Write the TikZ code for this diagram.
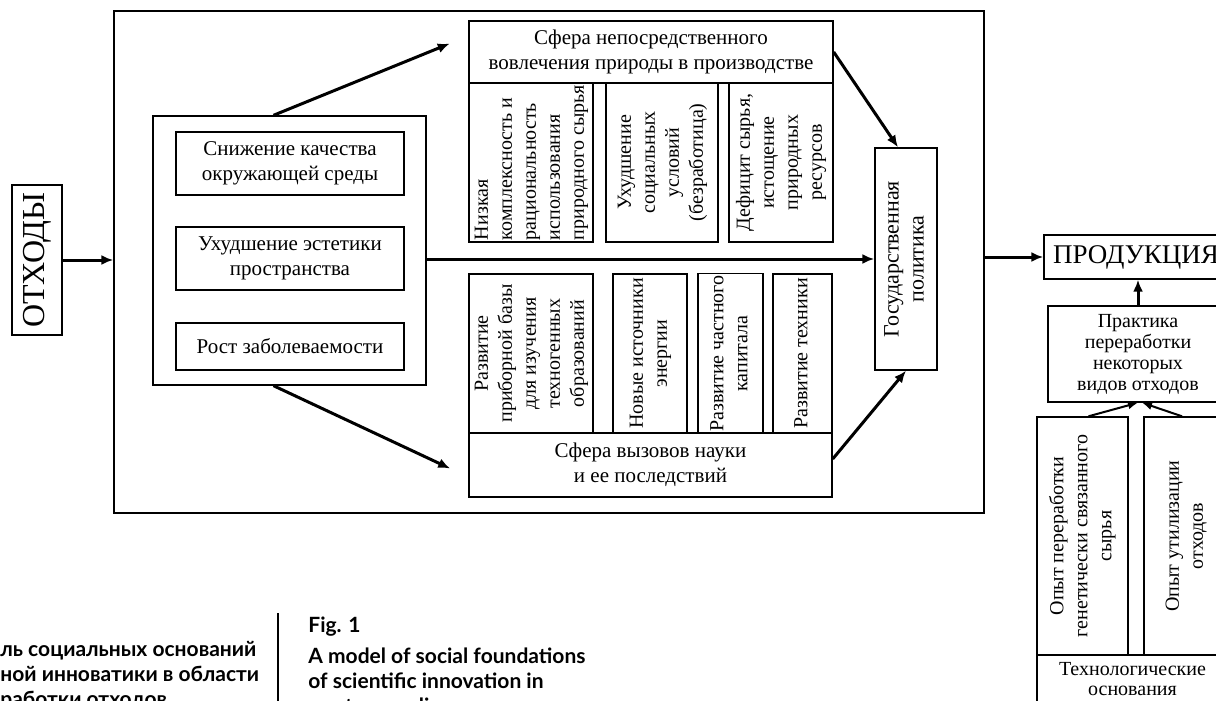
\documentclass[tikz,border=0pt]{standalone}
\usepackage{fontspec}
\setmainfont{Liberation Serif}
\newfontfamily\capfont{Lato}
\usetikzlibrary{arrows.meta}

\newcommand{\vtext}[1]{\rotatebox{90}{\begin{tabular}{@{}c@{}}#1\end{tabular}}}
\newcommand{\vtextl}[1]{\rotatebox{90}{\begin{tabular}{@{}l@{}}#1\end{tabular}}}

\begin{document}
\begin{tikzpicture}[x=0.5pt,y=-0.5pt]
\tikzstyle{box}=[draw,line width=0.7pt,inner sep=1pt,align=center,font=\fontsize{10.5}{12.5}\selectfont];
\tikzstyle{vbox}=[box,font=\fontsize{10}{12}\selectfont];
\tikzstyle{arr}=[-{Latex[length=6pt,width=5pt]},line width=1.5pt];
\tikzstyle{small arr}=[-{Latex[length=5pt,width=4pt]},line width=1pt];
\tikzstyle{caption}=[inner sep=0pt,align=left,font=\capfont\bfseries\fontsize{10.5}{12.5}\selectfont];
\useasboundingbox (0,0) rectangle (1216,701);
\clip (0,0) rectangle (1216,701);

% waste and the big frame
\node[box,minimum width=25pt,minimum height=75pt,font=\fontsize{16}{18}\selectfont] (otx) at (37,260) {\rotatebox{90}{ОТХОДЫ}};
\node[box,minimum width=435pt,minimum height=251pt] (outer) at (549,262) {};

% consequences
\node[box,minimum width=136.5pt,minimum height=134.5pt] (inner) at (289.5,250.5) {};
\node[box,minimum width=114pt,minimum height=31.5pt] (env) at (290,163.5) {Снижение качества\\окружающей среды};
\node[box,minimum width=114pt,minimum height=31.5pt] (aest) at (290,258.5) {Ухудшение эстетики\\пространства};
\node[box,minimum width=114pt,minimum height=23.5pt] (ill) at (290,346.5) {Рост заболеваемости};

% nature sphere
\node[box,minimum width=182pt,minimum height=31pt] (upper) at (651,52) {Сфера непосредственного\\вовлечения природы в производстве};
\node[vbox,minimum width=62pt,minimum height=79.5pt] (raw) at (531,162.5) {\vtextl{Низкая\\комплексность и\\рациональность\\использования\\природного сырья}};
\node[vbox,minimum width=56pt,minimum height=79.5pt] (social) at (662,162.5) {\vtext{Ухудшение\\социальных\\условий\\(безработица)}};
\node[vbox,minimum width=52pt,minimum height=79.5pt] (deficit) at (781,162.5) {\vtext{Дефицит сырья,\\истощение\\природных\\ресурсов}};

% science sphere
\node[box,minimum width=181.5pt,minimum height=32pt] (lower) at (650.5,465) {Сфера вызовов науки\\и ее последствий};
\node[vbox,minimum width=62pt,minimum height=79.5pt] (base) at (531,353.5) {\vtext{Развитие\\приборной базы\\для изучения\\техногенных\\образований}};
\node[vbox,minimum width=37pt,minimum height=79.5pt] (energy) at (650,353.5) {\vtext{Новые источники\\энергии}};
\node[vbox,minimum width=32.5pt,minimum height=79.5pt] (capital) at (730.5,353.5) {\vtext{Развитие частного\\капитала}};
\node[vbox,minimum width=29.5pt,minimum height=79.5pt] (tech) at (802.5,353.5) {\vtext{Развитие техники}};

\node[box,minimum width=31pt,minimum height=111pt,font=\fontsize{11}{12.5}\selectfont] (gos) at (906,259) {\vtext{Государственная\\политика}};

% products
\node[box,minimum width=92pt,minimum height=22pt,font=\fontsize{13.5}{16}\selectfont] (prod) at (1136,257) {ПРОДУКЦИЯ};
\node[box,minimum width=90pt,minimum height=48pt,font=\fontsize{10}{10.5}\selectfont] (prak) at (1138,354) {Практика\\переработки\\некоторых\\видов отходов};
\node[vbox,minimum width=45.5pt,minimum height=119pt] (op1) at (1082.5,536) {\vtext{Опыт переработки\\генетически связанного\\сырья}};
\node[vbox,minimum width=42pt,minimum height=119pt] (op2) at (1186,536) {\vtext{Опыт утилизации\\отходов}};
\node[box,minimum width=95.5pt,minimum height=24pt,font=\fontsize{10}{10}\selectfont] (found) at (1132.5,679) {Технологические\\основания};

% arrows
\draw[arr] (otx.east) -- (otx.east -| outer.west);
\draw[arr,shorten >=10pt] ([xshift=-8pt]inner.north) -- ([yshift=8pt]upper.west);
\draw[arr,shorten >=10pt] ([xshift=-8pt]inner.south) -- ([yshift=-6pt]lower.west);
\draw[arr] (inner.east |- gos.west) -- (gos.west);
\draw[arr] (upper.east) -- ([xshift=-4pt]gos.north);
\draw[arr] ([yshift=3pt]lower.east) -- (gos.south);
\draw[arr] (prod.west -| outer.east) -- (prod.west);
\draw[arr] (prak.north) -- (prak.north |- prod.south);
\draw[small arr] ([xshift=3pt]op1.north) -- (prak.south);
\draw[small arr] ([xshift=-2pt]op2.north) -- ([xshift=2pt]prak.south);

% caption
\node[caption,anchor=north west] (capru) at (0,641) {ль социальных оснований\\ной инноватики в области\\работки отходов};
\draw[line width=0.6pt] (278,613) -- (278,701);
\node[caption,anchor=north west] (capen) at (308,617) {Fig. 1\\[3pt]A model of social foundations\\of scientific innovation in\\waste recycling};
\end{tikzpicture}
\end{document}
